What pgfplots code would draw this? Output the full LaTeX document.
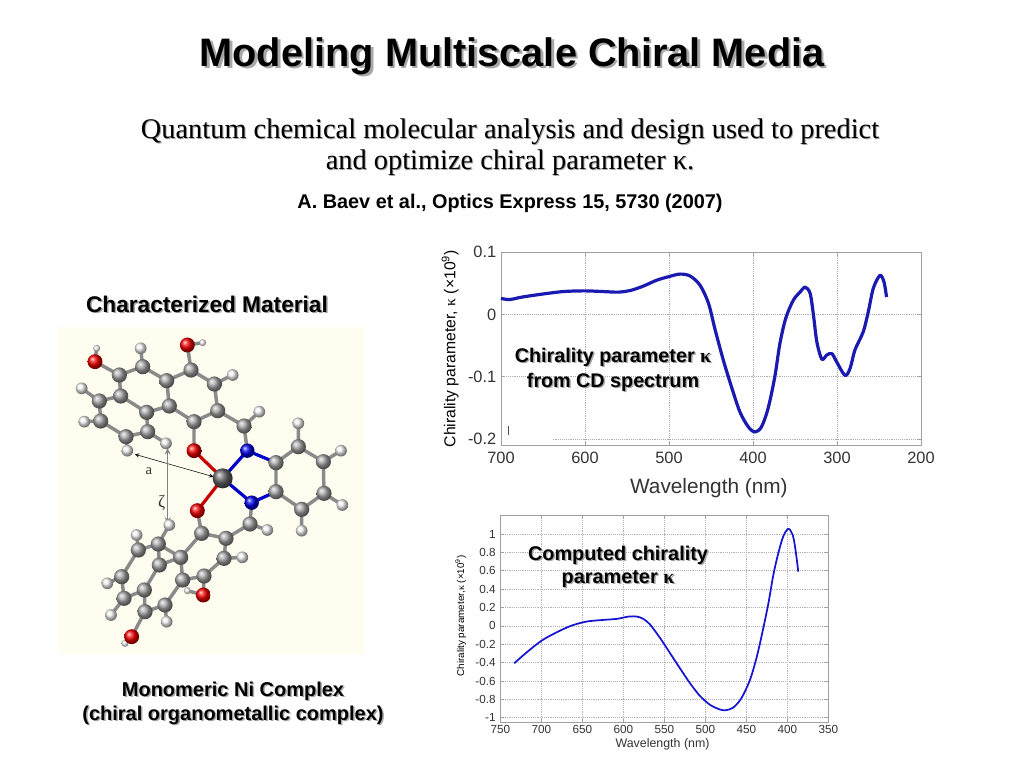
\documentclass[border=0pt]{standalone}
\usepackage{fontspec}
\usepackage{pgfplots}
\pgfplotsset{compat=1.18}
\setmainfont{Liberation Sans}
\newfontfamily\timesf{Liberation Serif}

\definecolor{curveA}{HTML}{1A1AB0}
\definecolor{curveB}{HTML}{1414D2}
\definecolor{molbg}{HTML}{FFFDF0}
\definecolor{bondgray}{HTML}{8A8A8A}
\definecolor{shadowc}{HTML}{A8A8A8}
\definecolor{framec}{HTML}{A0A0A0}

% text with a drop shadow, position in image pixels
\newcommand{\shadowtext}[4]{%
  \node[text=shadowc,font=#2] at ($(#1)+(#3,#3)$) {#4};
  \node[text=black,font=#2] at (#1) {#4};
}
\newcommand{\kap}{{\timesf κ}}
\usetikzlibrary{calc}

\pgfplotsset{
  chartbase/.style={
    scale only axis,
    x dir=reverse,
    axis line style={framec},
    tick style={framec,thin},
    tick align=inside,
    major tick length=2.5pt,
    grid=major,
    tick label style={text=black!80},
    /pgf/number format/assume math mode=true,
    clip=false,
  },
}

\begin{document}
\begin{tikzpicture}[x=0.75pt,y=-0.75pt]
\path (0,0) rectangle (1024,768);
\coordinate (axA) at (501,445);
\coordinate (axB) at (500.3,722.3);
\coordinate (mol) at (50,660);

% molecule, in crop coordinates
\begin{axis}[
  at={(mol)},anchor=south west,
  scale only axis,width=247.5pt,height=255pt,
  hide axis,clip=false,
  xmin=0,xmax=990,ymin=0,ymax=1020,y dir=reverse,
  unbounded coords=jump,
]
\fill[molbg] (axis cs:25,22) rectangle (axis cs:942,1002);
\addplot[no marks,bondgray,line width=2.6pt,line join=round] coordinates {
 (423,150)(493,192)(503,272)(432,305)(358,258)(350,182)(423,150) (nan,nan)
 (350,182)(278,140)(208,165)(212,228)(290,277)(358,258) (nan,nan)
 (290,277)(293,335)(228,350)(152,303)(148,243)(212,228) (nan,nan)
 (503,272)(582,318)(592,392) (nan,nan)
 (432,305)(432,392) (nan,nan)
 (278,140)(272,85) (nan,nan) (493,192)(548,165) (nan,nan) (582,318)(628,275) (nan,nan)
 (148,243)(95,205) (nan,nan) (152,303)(103,305) (nan,nan) (228,350)(232,392) (nan,nan)
 (293,335)(348,370) (nan,nan) (423,150)(412,75) (nan,nan) (412,75)(458,68) (nan,nan)
 (208,165)(135,125) (nan,nan) (135,125)(140,85) (nan,nan)
 (678,428)(745,380)(820,425)(822,520)(755,568)(678,515)(678,428) (nan,nan)
 (745,380)(745,310) (nan,nan) (820,425)(873,392) (nan,nan) (822,520)(877,555) (nan,nan) (755,568)(755,632) (nan,nan)
 (442,572)(455,640)(528,655)(600,612)(605,548) (nan,nan) (600,612)(652,630) (nan,nan)
 (528,655)(522,715)(462,768)(398,780)(392,712)(455,640) (nan,nan) (522,715)(577,712) (nan,nan)
 (462,768)(460,825)(412,812) (nan,nan)
 (392,712)(328,735)(283,810)(285,875)(345,855)(398,780) (nan,nan)
 (283,810)(222,835)(215,770)(265,690)(325,672)(328,735) (nan,nan)
 (392,712)(325,672) (nan,nan)
 (325,672)(358,615) (nan,nan) (265,690)(260,645) (nan,nan) (215,770)(172,790) (nan,nan)
 (222,835)(183,885) (nan,nan) (345,855)(350,905) (nan,nan) (285,875)(245,950)(225,970)
};
\addplot[no marks,blue!80!black,line width=2.4pt] coordinates {
 (592,392)(518,475)(605,548) (nan,nan) (592,392)(678,428) (nan,nan) (605,548)(678,515)};
\addplot[no marks,red!80!black,line width=2.4pt] coordinates {
 (432,392)(518,475)(442,572)};
% distance arrows
\addplot[no marks,black,thin,<->,>=stealth] coordinates {(255,403)(490,470)};
\addplot[no marks,gray,line width=1pt,<->,>=stealth] coordinates {(353,385)(353,610)};
\addplot[only marks,mark=ball,ball color=gray!70,mark size=5.7pt,draw=none] coordinates {
 (423,150)(350,182)(278,140)(208,165)(212,228)(148,243)(152,303)(228,350)(293,335)
 (290,277)(358,258)(432,305)(503,272)(493,192)(582,318)
 (678,428)(745,380)(820,425)(822,520)(755,568)(678,515)
 (455,640)(528,655)(600,612)(522,715)(462,768)(398,780)(392,712)(325,672)(328,735)
 (265,690)(215,770)(222,835)(283,810)(285,875)(345,855)};
\addplot[only marks,mark=ball,ball color=gray!10,mark size=4.4pt,draw=none] coordinates {
 (272,85)(548,165)(628,275)(95,205)(103,305)(232,392)(348,370)
 (745,310)(873,392)(877,555)(755,632)
 (652,630)(577,712)(358,615)(260,645)(172,790)(183,885)(350,905)};
\addplot[only marks,mark=ball,ball color=gray!10,mark size=2.6pt,draw=none] coordinates {
 (458,68)(140,85)(412,812)(225,970)};
\addplot[only marks,mark=ball,ball color=red!95!black,mark size=5.6pt,draw=none] coordinates {
 (412,75)(135,125)(432,392)(442,572)(460,825)(245,950)};
\addplot[only marks,mark=ball,ball color=blue!90!black,mark size=5.4pt,draw=none] coordinates {
 (592,392)(605,548)};
\addplot[only marks,mark=ball,ball color=black!60,mark size=7.5pt,draw=none] coordinates {(518,475)};
\node[font=\timesf\fontsize{11pt}{11pt}\selectfont,text=black!80] at (axis cs:297,452) {a};
\node[font=\timesf\fontsize{13pt}{13pt}\selectfont,text=black!80] at (axis cs:335,550) {ζ};
\node[font=\fontsize{7.5pt}{7.5pt}\selectfont,text=white] at (axis cs:518,475) {Ni};
\end{axis}

% measured curve
\begin{axis}[
  chartbase,
  grid style={densely dotted,gray!65,thin},
  at={(axA)},anchor=south west,
  width=315pt,height=144.5pt,
  xmin=200,xmax=700,ymin=-0.21,ymax=0.1,
  xtick={200,300,400,500,600,700},
  ytick={-0.2,-0.1,0,0.1},
  yticklabels={-0.2,-0.1,0,0.1},
  tick label style={font=\fontsize{12.3pt}{12.3pt}\selectfont},
  x tick label style={yshift=-1.5pt},
  every axis x label/.style={at={(axis description cs:0.495,-0.225)},anchor=center,font=\fontsize{15.6pt}{15.6pt}\selectfont,text=black!80},
  every axis y label/.style={at={(axis description cs:-0.121,0.5)},rotate=90,anchor=center,font=\fontsize{11.8pt}{11.8pt}\selectfont},
  xlabel={Wavelength (nm)},
  ylabel={Chirality parameter, \kap\ (×10\textsuperscript{9})},
]
% scan artefacts of the source figure: -0.2 grid line missing at the left
\fill[white] (axis cs:699,-0.205) rectangle (axis cs:638,-0.195);
\addplot[no marks,black!70,thin] coordinates {(691,-0.18)(691,-0.194)};
\addplot[curveA,line width=2.4pt,smooth,line join=round] coordinates {
 (700,0.026)(690,0.024)(675,0.028)(650,0.033)(625,0.037)(600,0.038)(580,0.037)
 (560,0.036)(545,0.039)(530,0.046)(515,0.055)(500,0.061)(487,0.065)(475,0.062)
 (463,0.047)(453,0.018)(445,-0.025)(435,-0.075)(425,-0.119)(415.5,-0.157)
 (405.5,-0.181)(397.6,-0.189)(390,-0.181)(382,-0.151)(374,-0.1)(368,-0.047)
 (361,-0.006)(352,0.023)(344,0.036)(338,0.044)(332,0.034)(328,-0.001)(324,-0.044)
 (318,-0.072)(312,-0.065)(306,-0.063)(300.5,-0.076)(290.5,-0.098)(284.5,-0.087)
 (278.6,-0.057)(268.8,-0.028)(262.8,0.004)(256.8,0.042)(248.8,0.063)(244,0.052)
 (241,0.028)
};
\end{axis}

% computed curve
\begin{axis}[
  chartbase,
  grid style={densely dotted,black!30,thin},
  at={(axB)},anchor=south west,
  width=246pt,height=155pt,
  xmin=350,xmax=750,ymin=-1.05,ymax=1.2,
  xtick={350,400,450,500,550,600,650,700,750},
  ytick={-1,-0.8,-0.6,-0.4,-0.2,0,0.2,0.4,0.6,0.8,1},
  yticklabels={-1,-0.8,-0.6,-0.4,-0.2,0,0.2,0.4,0.6,0.8,1},
  tick label style={font=\fontsize{8.8pt}{8.8pt}\selectfont},
  x tick label style={yshift=1pt},
  every axis x label/.style={at={(axis description cs:0.4946,-0.104)},anchor=center,font=\fontsize{9.3pt}{9.3pt}\selectfont,text=black!80},
  every axis y label/.style={at={(axis description cs:-0.1207,0.515)},rotate=90,anchor=center,font=\fontsize{7.4pt}{7.4pt}\selectfont},
  xlabel={Wavelength (nm)},
  ylabel={Chirality parameter,\kap\ (×10\textsuperscript{9})},
]
\addplot[curveB,line width=1.3pt,smooth] coordinates {
 (733,-0.407)(718,-0.29)(699.5,-0.16)(681,-0.069)(663,0.003)(644.7,0.047)(624,0.065)
 (608,0.076)(593.6,0.101)(583.4,0.101)(575.6,0.076)(567.5,0.016)(555,-0.134)
 (543,-0.297)(531,-0.461)(518.7,-0.624)(506.5,-0.763)(494,-0.861)(482,-0.911)
 (475,-0.918)(466,-0.89)(456,-0.788)(445.5,-0.588)(437,-0.33)(429.3,-0.025)(423,0.247)
 (417,0.556)(411,0.79)(405,0.973)(398.8,1.057)(393.4,0.99)(390,0.828)(386.6,0.59)
};
\end{axis}

% slide text
\shadowtext{512,56}{\bfseries\fontsize{29.8pt}{29.8pt}\selectfont}{2.5}{Modeling Multiscale Chiral Media}
\shadowtext{510,132}{\timesf\fontsize{21.3pt}{21.3pt}\selectfont}{1}{Quantum chemical molecular analysis and design used to predict}
\shadowtext{510,163}{\timesf\fontsize{21.3pt}{21.3pt}\selectfont}{1}{and optimize chiral parameter κ.}
\node[font=\bfseries\fontsize{14.9pt}{14.9pt}\selectfont] at (510,203) {A. Baev et al., Optics Express 15, 5730 (2007)};
\shadowtext{207,304}{\bfseries\fontsize{17pt}{17pt}\selectfont}{1.5}{Characterized Material}
\shadowtext{233,691}{\bfseries\fontsize{15pt}{15pt}\selectfont}{1.5}{Monomeric Ni Complex}
\shadowtext{233,715}{\bfseries\fontsize{15pt}{15pt}\selectfont}{1.5}{(chiral organometallic complex)}
\shadowtext{613,357}{\bfseries\fontsize{14.8pt}{14.8pt}\selectfont}{1.5}{Chirality parameter \kap}
\shadowtext{613,382}{\bfseries\fontsize{14.8pt}{14.8pt}\selectfont}{1.5}{from CD spectrum}
\shadowtext{618,555}{\bfseries\fontsize{14.9pt}{14.9pt}\selectfont}{1.5}{Computed chirality}
\shadowtext{618,579}{\bfseries\fontsize{14.9pt}{14.9pt}\selectfont}{1.5}{parameter \kap}
\end{tikzpicture}
\end{document}
